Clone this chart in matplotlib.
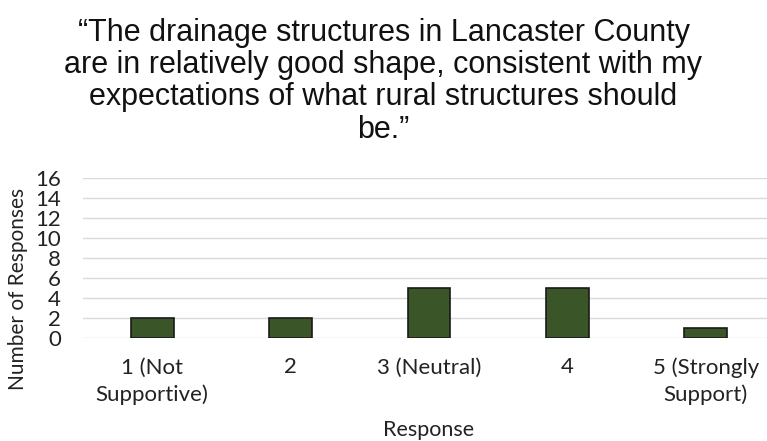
import matplotlib.pyplot as plt

responses = ["1 (Not\nSupportive)", "2", "3 (Neutral)", "4", "5 (Strongly\nSupport)"]
counts = [2, 2, 5, 5, 1]
yticks = [0, 2, 4, 6, 8, 10, 12, 14, 16]

TITLE = ("\u201cThe drainage structures in Lancaster County\n"
         "are in relatively good shape, consistent with my\n"
         "expectations of what rural structures should\n"
         "be.\u201d")

plt.rcParams["font.family"] = ["Lato", "DejaVu Sans"]

fig = plt.figure(figsize=(7.67, 4.41), dpi=100)
ax = fig.add_axes([83 / 767, 103 / 441, 692 / 767, 160 / 441])

x = range(len(responses))
ax.bar(x, counts, width=0.31, color="#3a5527", edgecolor="#1a1a1a", linewidth=1.2, zorder=3)

ax.set_xlim(-0.5, len(responses) - 0.5)
ax.set_ylim(0, 16)
ax.set_yticks(yticks)
ax.set_xticks(list(x))
ax.set_xticklabels(responses, fontsize=16, color="#222222", linespacing=1.4)
ax.tick_params(axis="y", labelsize=16, pad=16, length=0, labelcolor="#222222")
ax.tick_params(axis="x", length=0, pad=14)
ax.grid(axis="y", color="#d9d9d9", linewidth=1, zorder=0)
for s in ax.spines.values():
    s.set_visible(False)

fig.text(18 / 767, 1 - 289 / 441, "Number of Responses", rotation=90,
         ha="center", va="center", fontsize=15, color="#222222")
fig.text(429 / 767, 1 - 430 / 441, "Response", ha="center", va="center",
         fontsize=15.5, color="#222222")

fig.text(0.5, 0.96, TITLE, ha="center", va="top", fontsize=22,
         linespacing=1.1, color="#111111", family=["Liberation Sans", "DejaVu Sans"])

plt.savefig("out.png", dpi=100)
